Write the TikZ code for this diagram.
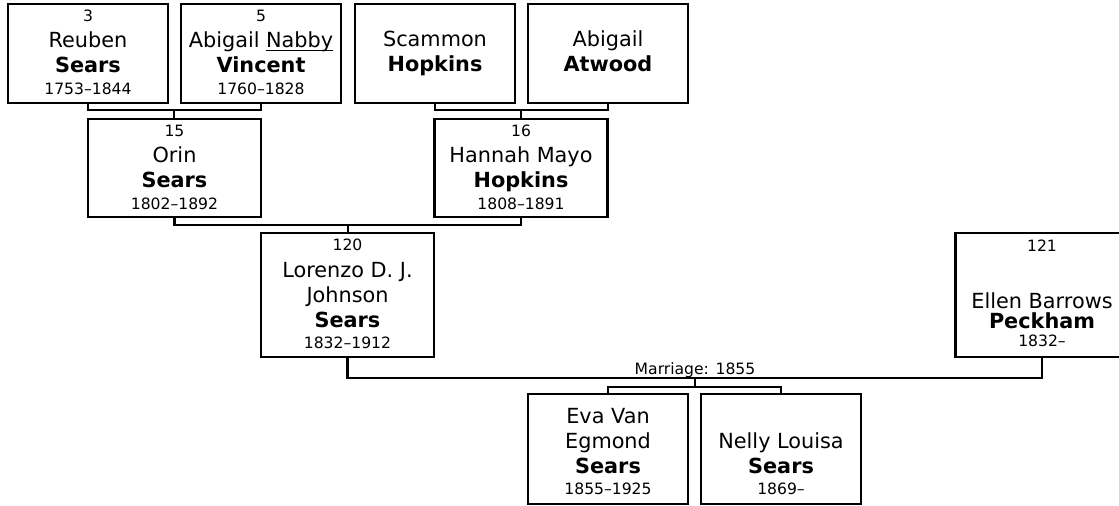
\documentclass[tikz,border=0pt]{standalone}
\usepackage{fontspec}
\setmainfont{DejaVu Sans}
\newcommand\Nmf{\fontsize{15.6}{18.75}\selectfont}
\newcommand\Smf{\fontsize{11.7}{18.75}\selectfont}
\newcommand\Lnum[1]{{\Smf\strut#1}}
\newcommand\Ldat[1]{{\Smf\strut#1}}
\newcommand\Lgiv[1]{\strut#1}
\newcommand\Lsur[1]{\strut\textbf{#1}}
\newcommand\Lul[1]{\setbox0\hbox{#1}\rlap{\rule[-2.6pt]{\wd0}{0.9pt}}\box0}
\tikzset{
  ln/.style={line width=1.6pt, black},
  pbox/.style={draw, line width=1.6pt, rectangle, inner sep=0pt},
  tb/.style={pbox, minimum width=120pt, minimum height=74.25pt},
  mb/.style={pbox, minimum width=129.75pt, minimum height=73.5pt},
  lb/.style={pbox, minimum width=129.75pt, minimum height=93pt},
  cb/.style={pbox, minimum width=120pt, minimum height=82.5pt},
  txt/.style={align=center, inner sep=0pt, font=\Nmf},
  lab/.style={inner sep=0pt, font=\Smf, anchor=base}
}
\begin{document}
\begin{tikzpicture}[x=0.75pt, y=-0.75pt]
\useasboundingbox (0,0) rectangle (1119,506);
\clip (0,0) rectangle (1119,506);
\fill[white] (0,0) rectangle (1119,506);

% boxes
\node[tb] (p3)  at (88,53.5) {};
\node[tb] (p5)  at (261,53.5) {};
\node[tb] (psc) at (435,53.5) {};
\node[tb] (pat) at (608,53.5) {};
\node[mb] (p15) at (174.5,168) {};
\node[mb] (p16) at (521,168) {};
\node[lb] (p120) at (347.5,295) {};
\node[lb] (p121) at (1042,295) {};
\node[cb] (peva) at (608,449) {};
\node[cb] (pnel) at (781,449) {};

% texts
\node[txt] (t3) at (88,52.9) {\Lnum{3}\\[1.125pt]\Lgiv{Reuben}\\\Lsur{Sears}\\[-2.625pt]\Ldat{1753–1844}};
\node[txt] (t5) at (261,52.9) {\Lnum{5}\\[1.125pt]\Lgiv{Abigail \Lul{Nabby}}\\\Lsur{Vincent}\\[-2.625pt]\Ldat{1760–1828}};
\node[txt] (tsc) at (435,54.5) {\Lgiv{Scammon}\\\Lsur{Hopkins}};
\node[txt] (tat) at (608,54.5) {\Lgiv{Abigail}\\\Lsur{Atwood}};
\node[txt] (t15) at (174.5,167.9) {\Lnum{15}\\[1.125pt]\Lgiv{Orin}\\\Lsur{Sears}\\[-2.625pt]\Ldat{1802–1892}};
\node[txt] (t16) at (521,167.9) {\Lnum{16}\\[1.125pt]\Lgiv{Hannah Mayo}\\\Lsur{Hopkins}\\[-2.625pt]\Ldat{1808–1891}};
\node[txt] (t120) at (347.5,294.7) {\Lnum{120}\\[1.125pt]\Lgiv{Lorenzo D. J.}\\\Lgiv{Johnson}\\\Lsur{Sears}\\[-2.625pt]\Ldat{1832–1912}};
\node[txt] (t121) at (1042,293.9) {\Lnum{121}\\[24pt]\Lgiv{Ellen Barrows}\\[-3.75pt]\Lsur{Peckham}\\[-5.25pt]\Ldat{1832–}};
\node[txt] (teva) at (608,454) {\Lgiv{Eva Van}\\\Lgiv{Egmond}\\\Lsur{Sears}\\[-2.625pt]\Ldat{1855–1925}};
\node[txt] (tnel) at (781,466.5) {\Lgiv{Nelly Louisa}\\\Lsur{Sears}\\[-2.625pt]\Ldat{1869–}};

% junctions
\coordinate (j1) at (174,110);
\coordinate (j2) at (521,110);
\coordinate (j3) at (348,225);
\coordinate (j4) at (695,378);
\coordinate (j5) at (695,387);

% connectors
\draw[ln] (p3.south) |- (j1) -| (p5.south);
\draw[ln] (j1) -- (j1 |- p15.north);
\draw[ln] (psc.south) |- (j2) -| (pat.south);
\draw[ln] (j2) -- (j2 |- p16.north);
\draw[ln] (p15.south) |- (j3) -| (p16.south);
\draw[ln] (j3) -- (j3 |- p120.north);
\draw[ln] (p120.south) |- (j4) -| (p121.south);
\draw[ln] (j4) -- (j5);
\draw[ln] (peva.north) |- (j5) -| (pnel.north);

\node[lab] (mlab) at (695,374) {Marriage: 1855};
\end{tikzpicture}
\end{document}
